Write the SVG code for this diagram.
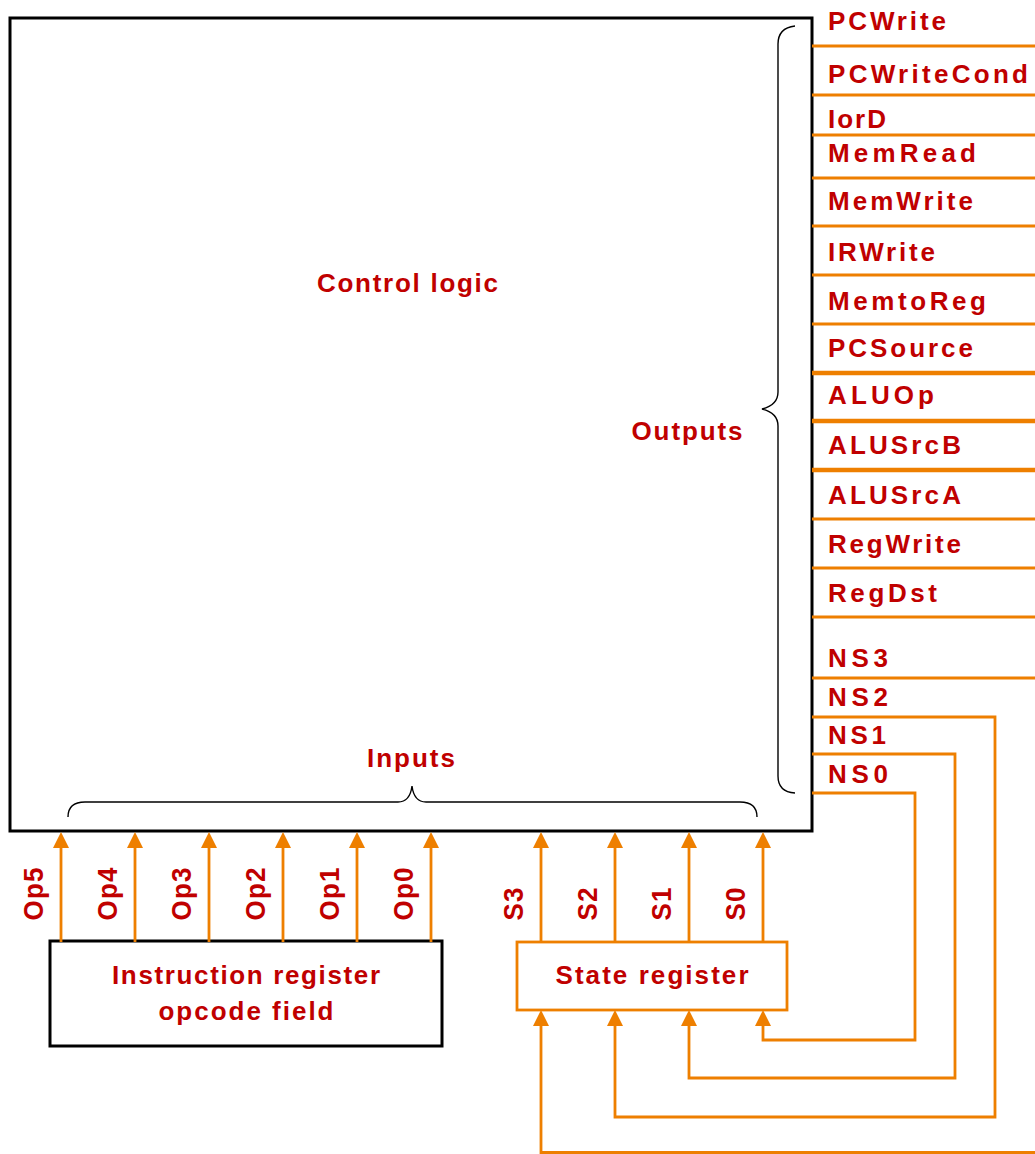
<svg xmlns="http://www.w3.org/2000/svg" width="1035" height="1154" viewBox="0 0 1035 1154">
<style>
.t{font-family:"Liberation Sans",Arial,sans-serif;font-weight:bold;font-size:26px;fill:#C00000}
.m{text-anchor:middle}
.o{stroke:#EE7F00;stroke-width:2.8;fill:none}
.ot{stroke:#EE7F00;stroke-width:4.5;fill:none}
.b{stroke:#000;stroke-width:3;fill:#fff}
.br{stroke:#000;stroke-width:1.4;fill:none}
</style>
<defs>
<marker id="ah" viewBox="0 0 16 16" refX="0" refY="8" markerWidth="16" markerHeight="16" markerUnits="userSpaceOnUse" orient="auto">
<path d="M0,0 L16,8 L0,16 z" fill="#EE7F00"/>
</marker>
</defs>
<rect width="1035" height="1154" fill="#fff"/>

<g id="control-logic">
<rect class="b" x="10" y="18" width="802" height="813"/>
<text class="t m" x="407.5" y="292" textLength="181" lengthAdjust="spacing">Control logic</text>
<path class="br" d="M795,26 Q778,28 778,44 L778,392 Q778,405 762,409 Q778,413 778,426 L778,776 Q778,792 795,793"/>
<text class="t m" x="687" y="440" textLength="111" lengthAdjust="spacing">Outputs</text>
<path class="br" d="M68,817 Q68,802 85,802 L398,802 Q410,802 412,786 Q414,802 426,802 L740,802 Q757,802 757,817"/>
<text class="t m" x="411" y="767" textLength="88" lengthAdjust="spacing">Inputs</text>
</g>

<g id="instruction-register">
<rect class="b" x="50" y="941" width="392" height="105"/>
<text class="t m" x="246" y="984" textLength="268" lengthAdjust="spacing">Instruction register</text>
<text class="t m" x="246" y="1020" textLength="175" lengthAdjust="spacing">opcode field</text>
</g>

<g id="state-register">
<rect x="517" y="942" width="270" height="68" fill="#fff" stroke="#EE7F00" stroke-width="2.8"/>
<text class="t m" x="652" y="984" textLength="193" lengthAdjust="spacing">State register</text>
</g>

<g id="connectors">
<line class="o" x1="812" y1="46" x2="1035" y2="46"/>
<line class="o" x1="812" y1="95" x2="1035" y2="95"/>
<line class="o" x1="812" y1="135" x2="1035" y2="135"/>
<line class="o" x1="812" y1="178" x2="1035" y2="178"/>
<line class="o" x1="812" y1="226" x2="1035" y2="226"/>
<line class="o" x1="812" y1="275" x2="1035" y2="275"/>
<line class="o" x1="812" y1="324" x2="1035" y2="324"/>
<line class="ot" x1="812" y1="373" x2="1035" y2="373"/>
<line class="ot" x1="812" y1="421" x2="1035" y2="421"/>
<line class="ot" x1="812" y1="470" x2="1035" y2="470"/>
<line class="o" x1="812" y1="519" x2="1035" y2="519"/>
<line class="o" x1="812" y1="568" x2="1035" y2="568"/>
<line class="o" x1="812" y1="617" x2="1035" y2="617"/>
<line class="o" x1="812" y1="678" x2="1035" y2="678"/>
<path class="o" d="M812,793 H915 V1040 H763 V1026" marker-end="url(#ah)"/>
<path class="o" d="M812,754 H955 V1078 H689 V1026" marker-end="url(#ah)"/>
<path class="o" d="M812,717 H995 V1117 H615 V1026" marker-end="url(#ah)"/>
<path class="o" d="M1035,1152.5 H541 V1026" marker-end="url(#ah)"/>
<line class="o" x1="61" y1="942" x2="61" y2="848" marker-end="url(#ah)"/>
<line class="o" x1="135" y1="942" x2="135" y2="848" marker-end="url(#ah)"/>
<line class="o" x1="209" y1="942" x2="209" y2="848" marker-end="url(#ah)"/>
<line class="o" x1="283" y1="942" x2="283" y2="848" marker-end="url(#ah)"/>
<line class="o" x1="357" y1="942" x2="357" y2="848" marker-end="url(#ah)"/>
<line class="o" x1="431" y1="942" x2="431" y2="848" marker-end="url(#ah)"/>
<line class="o" x1="541" y1="942" x2="541" y2="848" marker-end="url(#ah)"/>
<line class="o" x1="615" y1="942" x2="615" y2="848" marker-end="url(#ah)"/>
<line class="o" x1="689" y1="942" x2="689" y2="848" marker-end="url(#ah)"/>
<line class="o" x1="763" y1="942" x2="763" y2="848" marker-end="url(#ah)"/>
</g>

<g id="output-labels">
<text class="t" x="828" y="30" textLength="118" lengthAdjust="spacing">PCWrite</text>
<text class="t" x="828" y="83" textLength="200" lengthAdjust="spacing">PCWriteCond</text>
<text class="t" x="828" y="128" textLength="58" lengthAdjust="spacing">IorD</text>
<text class="t" x="828" y="162" textLength="148" lengthAdjust="spacing">MemRead</text>
<text class="t" x="828" y="210" textLength="145" lengthAdjust="spacing">MemWrite</text>
<text class="t" x="828" y="261" textLength="107" lengthAdjust="spacing">IRWrite</text>
<text class="t" x="828" y="310" textLength="158" lengthAdjust="spacing">MemtoReg</text>
<text class="t" x="828" y="357" textLength="145" lengthAdjust="spacing">PCSource</text>
<text class="t" x="828" y="404" textLength="106" lengthAdjust="spacing">ALUOp</text>
<text class="t" x="828" y="454" textLength="133" lengthAdjust="spacing">ALUSrcB</text>
<text class="t" x="828" y="504" textLength="133" lengthAdjust="spacing">ALUSrcA</text>
<text class="t" x="828" y="553" textLength="133" lengthAdjust="spacing">RegWrite</text>
<text class="t" x="828" y="602" textLength="109" lengthAdjust="spacing">RegDst</text>
<text class="t" x="828" y="667" textLength="60" lengthAdjust="spacing">NS3</text>
<text class="t" x="828" y="706" textLength="60" lengthAdjust="spacing">NS2</text>
<text class="t" x="828" y="744" textLength="58" lengthAdjust="spacing">NS1</text>
<text class="t" x="828" y="783" textLength="60" lengthAdjust="spacing">NS0</text>
</g>

<g id="input-labels">
<text class="t m" transform="translate(42.5,894) rotate(-90) scale(1,1.08)" textLength="53" lengthAdjust="spacing">Op5</text>
<text class="t m" transform="translate(116.5,894) rotate(-90) scale(1,1.08)" textLength="53" lengthAdjust="spacing">Op4</text>
<text class="t m" transform="translate(190.5,894) rotate(-90) scale(1,1.08)" textLength="53" lengthAdjust="spacing">Op3</text>
<text class="t m" transform="translate(264.5,894) rotate(-90) scale(1,1.08)" textLength="53" lengthAdjust="spacing">Op2</text>
<text class="t m" transform="translate(338.5,894) rotate(-90) scale(1,1.08)" textLength="53" lengthAdjust="spacing">Op1</text>
<text class="t m" transform="translate(412.5,894) rotate(-90) scale(1,1.08)" textLength="53" lengthAdjust="spacing">Op0</text>
<text class="t m" transform="translate(522.5,904) rotate(-90) scale(1,1.08)" textLength="33" lengthAdjust="spacing">S3</text>
<text class="t m" transform="translate(596.5,904) rotate(-90) scale(1,1.08)" textLength="33" lengthAdjust="spacing">S2</text>
<text class="t m" transform="translate(670.5,904) rotate(-90) scale(1,1.08)" textLength="33" lengthAdjust="spacing">S1</text>
<text class="t m" transform="translate(744.5,904) rotate(-90) scale(1,1.08)" textLength="33" lengthAdjust="spacing">S0</text>
</g>
</svg>
